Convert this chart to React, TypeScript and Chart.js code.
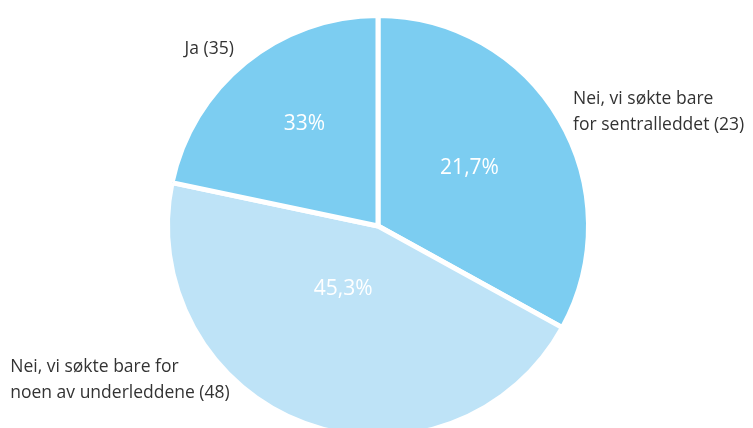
import React, { useEffect, useRef } from "react";
import { Chart, registerables } from "chart.js";

Chart.register(...registerables);

// Slices in drawing order (clockwise from 12 o'clock)
const sliceValues = [35, 48, 23];
const sliceColors = ["#7CCDF1", "#BEE3F7", "#7CCDF1"];
const pctLabels = ["21,7%", "45,3%", "33%"];
const outerLabels = [
  ["Nei, vi søkte bare", "for sentralleddet (23)"],
  ["Nei, vi søkte bare for", "noen av underleddene (48)"],
  ["Ja (35)"],
];

// label placement, in units of the pie radius relative to its centre
const pctPos = [
  [0.44, -0.278],
  [-0.167, 0.301],
  [-0.354, -0.488],
];
const outerPos = [
  [0.938, -0.612],
  [-1.768, 0.679],
  [-0.93, -0.852],
];

const FONT = "'Open Sans', sans-serif";

const labelPlugin = {
  id: "pieLabels",
  afterDraw(chart: any) {
    const meta = chart.getDatasetMeta(0);
    const arc = meta.data[0];
    if (!arc) return;
    const { x: cx, y: cy, outerRadius } = arc.getProps(["x", "y", "outerRadius"], true);
    const r = outerRadius - 2.5;
    const ctx = chart.ctx;
    ctx.save();
    ctx.textBaseline = "middle";
    // percentages
    ctx.fillStyle = "#ffffff";
    ctx.textAlign = "center";
    ctx.font = `21px ${FONT}`;
    pctLabels.forEach((t, i) => {
      ctx.fillText(t, cx + pctPos[i][0] * r, cy + pctPos[i][1] * r);
    });
    // outer labels
    ctx.fillStyle = "#333333";
    ctx.textAlign = "left";
    ctx.font = `17.5px ${FONT}`;
    outerLabels.forEach((lines, i) => {
      lines.forEach((ln, j) => {
        ctx.fillText(ln, cx + outerPos[i][0] * r, cy + outerPos[i][1] * r + j * 26);
      });
    });
    ctx.restore();
  },
};

export default function App() {
  const ref = useRef<HTMLCanvasElement>(null);
  useEffect(() => {
    if (!ref.current) return;
    const chart = new Chart(ref.current, {
      type: "pie",
      data: {
        labels: outerLabels.map((l) => l.join(" ")),
        datasets: [
          {
            data: sliceValues,
            backgroundColor: sliceColors,
            borderColor: "#ffffff",
            borderWidth: 5,
          },
        ],
      },
      options: {
        responsive: false,
        animation: false,
        layout: { padding: { top: 13, left: 165, right: 162, bottom: 31 } },
        plugins: {
          legend: { display: false },
          tooltip: { enabled: false },
        },
      },
      plugins: [labelPlugin],
    });
    return () => chart.destroy();
  }, []);
  return (
    <div
      style={{
        position: "absolute",
        left: 0,
        top: 0,
        width: 753,
        height: 428,
        overflow: "hidden",
        background: "#fff",
      }}
    >
      <canvas ref={ref} width={753} height={470} style={{ display: "block" }} />
    </div>
  );
}
